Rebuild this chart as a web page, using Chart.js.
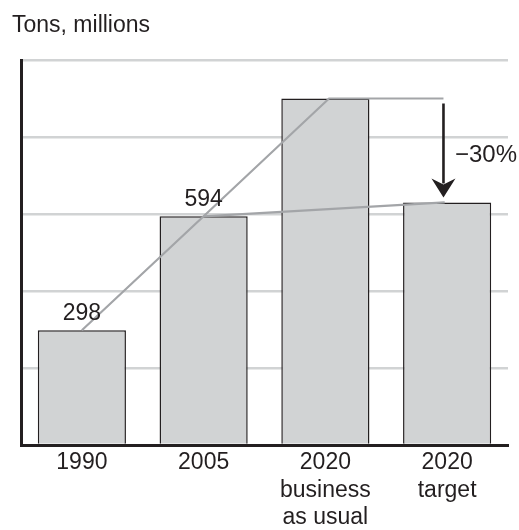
<!DOCTYPE html>
<html>
<head>
<meta charset="utf-8">
<script src="https://cdn.jsdelivr.net/npm/chart.js@4.4.0/dist/chart.umd.min.js"></script>
<style>
  html, body { margin: 0; padding: 0; background: #fff; }
  #wrap { width: 519px; height: 530px; position: relative; }
</style>
</head>
<body>
<div id="wrap"><canvas id="emissionsChart"></canvas></div>
<script>
// Chart data
const categories = [['1990'], ['2005'], ['2020', 'business', 'as usual'], ['2020', 'target']];
const tons = [298, 594, 900, 630];
const valueLabels = ['298', '594', '', ''];

// trend line: 1990 -> 2005 extended up to the business-as-usual level, then across
const trendX = [0, 1, 2.03, 2.97];
const trendY = [298, 594, 900, 900];
// 2005 -> target line
const targetX = [1, 2.98];
const targetY = [594, 630];

const reductionLabel = '\u221230%';
const unitLabel = 'Tons, millions';

const FONT = "'Liberation Sans', Arial, sans-serif";
const INK = '#231f20';

const annotations = {
    id: 'annotations',
    afterDatasetsDraw(chart) {
        const ctx = chart.ctx;
        const y = chart.scales.y;
        const x2 = chart.scales.x2;
        ctx.save();

        // arrow from business-as-usual down to target
        const ax = x2.getPixelForValue(2.97);
        const yTop = y.getPixelForValue(tons[2]) + 5;
        const yTip = y.getPixelForValue(tons[3]) - 5;
        ctx.strokeStyle = INK;
        ctx.fillStyle = INK;
        ctx.lineWidth = 2.6;
        ctx.beginPath();
        ctx.moveTo(ax, yTop);
        ctx.lineTo(ax, yTip - 14);
        ctx.stroke();
        ctx.beginPath();
        ctx.moveTo(ax - 12, yTip - 19);
        ctx.lineTo(ax, yTip - 13);
        ctx.lineTo(ax + 12, yTip - 19);
        ctx.lineTo(ax, yTip);
        ctx.closePath();
        ctx.fill();

        // value labels over bars
        ctx.font = '23px ' + FONT;
        ctx.textAlign = 'center';
        ctx.textBaseline = 'alphabetic';
        const bars = chart.getDatasetMeta(0).data;
        bars.forEach((bar, i) => {
            if (valueLabels[i]) ctx.fillText(valueLabels[i], bar.x, bar.y - 10);
        });

        ctx.textAlign = 'left';
        ctx.font = '24px ' + FONT;
        ctx.fillText(reductionLabel, 455, 162);
        ctx.font = '23px ' + FONT;
        ctx.fillText(unitLabel, 12, 32);
        ctx.restore();
    }
};

new Chart(document.getElementById('emissionsChart'), {
    type: 'bar',
    data: {
        labels: categories,
        datasets: [
            {
                label: 'Tons',
                data: tons,
                backgroundColor: '#d1d3d4',
                borderColor: INK,
                borderWidth: 1.5,
                borderSkipped: 'bottom',
                grouped: false,
                barPercentage: 0.724,
                categoryPercentage: 1,
                order: 2
            },
            {
                type: 'line',
                label: 'trend',
                xAxisID: 'x2',
                data: trendX.map((v, i) => ({ x: v, y: trendY[i] })),
                borderColor: '#a3a5a8',
                borderWidth: 2.2,
                pointRadius: 0,
                tension: 0,
                order: 1
            },
            {
                type: 'line',
                label: 'target',
                xAxisID: 'x2',
                data: targetX.map((v, i) => ({ x: v, y: targetY[i] })),
                borderColor: '#a3a5a8',
                borderWidth: 2.2,
                pointRadius: 0,
                tension: 0,
                order: 1
            }
        ]
    },
    options: {
        responsive: true,
        maintainAspectRatio: false,
        animation: false,
        layout: { padding: { top: 60, left: 21, right: 11, bottom: 0 } },
        plugins: {
            legend: { display: false },
            tooltip: { enabled: false }
        },
        scales: {
            x: {
                grid: { display: false, drawTicks: false },
                border: { display: true, color: INK, width: 3 },
                ticks: {
                    color: INK,
                    font: { family: FONT, size: 23, lineHeight: 1.2 },
                    padding: 4,
                    maxRotation: 0,
                    autoSkip: false
                },
                // keep the plot floor where the original has it
                afterFit: (scale) => { scale.height = 85; }
            },
            x2: {
                type: 'linear',
                display: false,
                offset: false,
                min: -0.5,
                max: 3.5
            },
            y: {
                min: 0,
                max: 1000,
                ticks: { display: false, stepSize: 200 },
                grid: { color: '#d1d3d4', lineWidth: 2.5, drawTicks: false },
                border: { display: true, color: INK, width: 3 }
            }
        }
    },
    plugins: [annotations]
});
</script>
</body>
</html>
